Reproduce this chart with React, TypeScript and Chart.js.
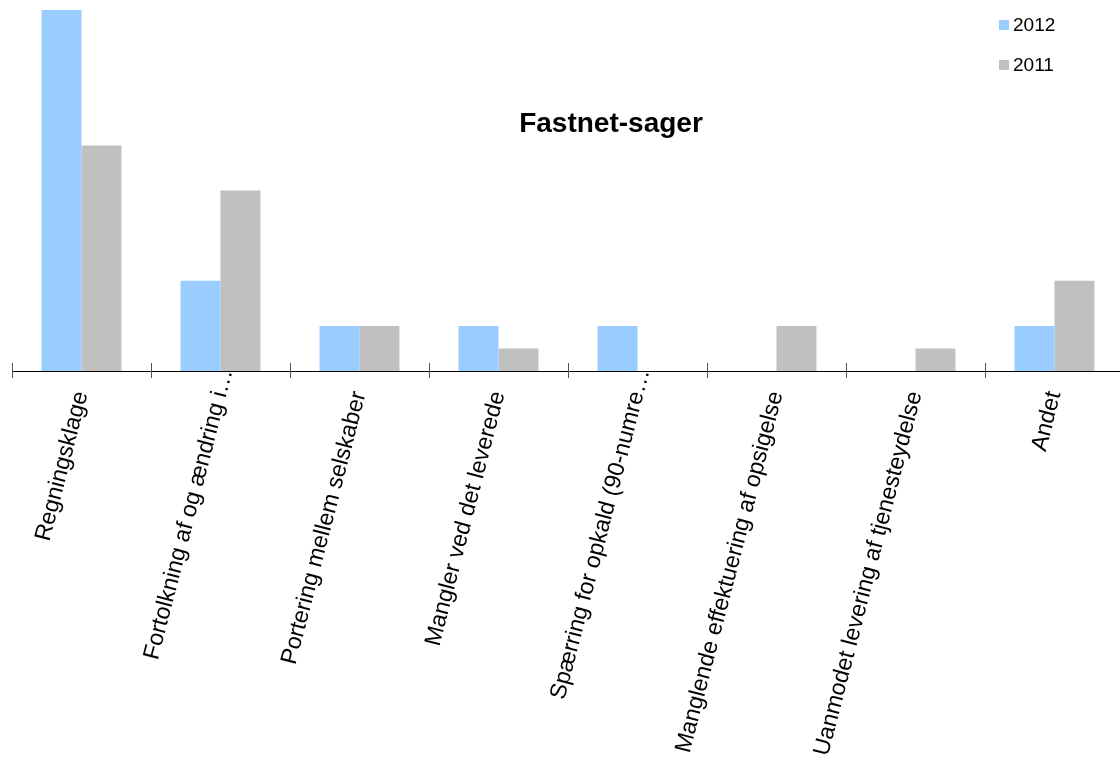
import React, { useEffect, useRef } from "react";
import { Chart, registerables } from "chart.js";

Chart.register(...registerables);

// Complaint categories and case counts per year
const categories = [
  "Regningsklage",
  "Fortolkning af og ændring i…",
  "Portering mellem selskaber",
  "Mangler ved det leverede",
  "Spærring for opkald (90-numre…",
  "Manglende effektuering af opsigelse",
  "Uanmodet levering af tjenesteydelse",
  "Andet",
];
const values2012 = [16, 4, 2, 2, 2, 0, 0, 2];
const values2011 = [10, 8, 2, 1, 0, 2, 1, 4];
const seriesNames = ["2012", "2011"];
const seriesColors = ["#99CCFF", "#C0C0C0"];
const chartTitle = "Fastnet-sager";

const FONT = "'Liberation Sans', Arial, Helvetica, sans-serif";
const CANVAS_W = 1130;
const CANVAS_H = 760;
const LABEL_ANGLE = (75.5 * Math.PI) / 180;
const ELLIPSIS = "…";

// Axis line, boundary tick marks, slanted category labels,
// the inline title and the stacked legend
const decorations = {
  id: "decorations",
  afterDraw(chart: any) {
    const { ctx, chartArea, scales } = chart;
    const xs = scales.x;
    const labels: string[] = chart.data.labels;
    const n = labels.length;
    const half = (xs.getPixelForValue(1) - xs.getPixelForValue(0)) / 2;
    const base = chartArea.bottom + 0.5;

    ctx.save();
    ctx.strokeStyle = "#000";
    ctx.lineWidth = 1;
    ctx.beginPath();
    ctx.moveTo(chartArea.left, base);
    ctx.lineTo(chartArea.right, base);
    ctx.stroke();

    ctx.strokeStyle = "#555";
    for (let i = 0; i <= n; i++) {
      const px = Math.round(xs.getPixelForValue(i) - half) + 0.5;
      ctx.beginPath();
      ctx.moveTo(px, chartArea.bottom - 8);
      ctx.lineTo(px, chartArea.bottom + 7);
      ctx.stroke();
    }

    // category labels: text ends at the category centre, a trailing
    // ellipsis runs on past that point
    ctx.fillStyle = "#000";
    ctx.font = `23.2px ${FONT}`;
    ctx.textBaseline = "middle";
    labels.forEach((label, i) => {
      const cx = xs.getPixelForValue(i);
      const cy = chartArea.bottom + 21;
      const cut = label.endsWith(ELLIPSIS);
      const main = cut ? label.slice(0, -1) : label;
      ctx.save();
      ctx.translate(cx, cy);
      ctx.rotate(-LABEL_ANGLE);
      ctx.textAlign = "right";
      ctx.fillText(main, 0, 0);
      if (cut) {
        ctx.textAlign = "left";
        ctx.fillText(ELLIPSIS, 0, 0);
      }
      ctx.restore();
    });

    ctx.font = `bold 28px ${FONT}`;
    ctx.textAlign = "center";
    ctx.textBaseline = "alphabetic";
    ctx.fillText(chartTitle, 611, 131.5);

    ctx.font = `19px ${FONT}`;
    ctx.textAlign = "left";
    ctx.textBaseline = "middle";
    chart.data.datasets.forEach((ds: any, i: number) => {
      const y = 25 + i * 40;
      ctx.fillStyle = ds.backgroundColor;
      ctx.fillRect(999, y - 5, 10, 10);
      ctx.fillStyle = "#000";
      ctx.fillText(ds.label, 1013, y + 1);
    });
    ctx.restore();
  },
};

export default function App() {
  const canvasRef = useRef<HTMLCanvasElement | null>(null);

  useEffect(() => {
    const canvas = canvasRef.current;
    if (!canvas) return;
    const chart = new Chart(canvas, {
      type: "bar",
      data: {
        labels: categories,
        datasets: [
          {
            label: seriesNames[0],
            data: values2012,
            backgroundColor: seriesColors[0],
            borderWidth: 0,
          },
          {
            label: seriesNames[1],
            data: values2011,
            backgroundColor: seriesColors[1],
            borderWidth: 0,
          },
        ],
      },
      options: {
        responsive: false,
        animation: false,
        devicePixelRatio: 1,
        layout: { padding: { left: 12, right: 6, top: 10, bottom: 0 } },
        plugins: {
          legend: { display: false },
          title: { display: false },
          tooltip: { enabled: false },
        },
        datasets: {
          bar: { categoryPercentage: 0.575, barPercentage: 1 },
        },
        scales: {
          x: {
            offset: true,
            grid: { display: false, drawTicks: false },
            border: { display: false },
            ticks: { display: false },
            afterFit: (scale: any) => {
              scale.height = CANVAS_H - 371;
            },
          },
          y: {
            display: false,
            min: 0,
            max: 16,
          },
        },
      },
      plugins: [decorations],
    });
    return () => chart.destroy();
  }, []);

  return (
    <div
      style={{
        position: "fixed",
        left: 0,
        top: 0,
        width: 1120,
        height: 760,
        overflow: "hidden",
        background: "#fff",
      }}
    >
      <canvas
        ref={canvasRef}
        width={CANVAS_W}
        height={CANVAS_H}
        style={{ display: "block", width: CANVAS_W, height: CANVAS_H }}
      />
    </div>
  );
}
